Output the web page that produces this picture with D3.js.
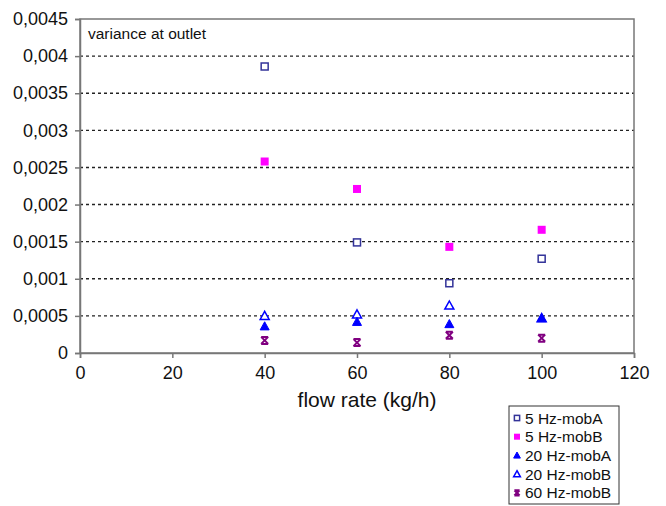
<!DOCTYPE html>
<html>
<head>
<meta charset="utf-8">
<script src="https://cdn.jsdelivr.net/npm/d3@7"></script>
<style>
    body { margin: 0; background: #fff; }
    svg { font-family: "Liberation Sans", Arial, sans-serif; }
</style>
</head>
<body>
<svg id="chart" width="666" height="506"></svg>
<script>
// flow rate values (kg/h)
var flowRates = [40, 60, 80, 100];

// variance at outlet, one array per series
var hz5MobA = [0.00386, 0.00149, 0.00094, 0.00127];
var hz5MobB = [0.00258, 0.00221, 0.00143, 0.00166];
var hz20MobA = [0.00036, 0.00042, 0.00039, 0.00047];
var hz20MobB = [0.00050, 0.00052, 0.00064, 0.00047];
var hz60MobB = [0.00017, 0.00014, 0.00024, 0.00020];

var seriesNames = ['5 Hz-mobA', '5 Hz-mobB', '20 Hz-mobA', '20 Hz-mobB', '60 Hz-mobB'];

var xTicks = [0, 20, 40, 60, 80, 100, 120];
var yTicks = [0, 0.0005, 0.001, 0.0015, 0.002, 0.0025, 0.003, 0.0035, 0.004, 0.0045];

// draw order: later series sit on top
var series = [
    { name: seriesNames[3], values: hz20MobB, shape: 'triOpen', color: '#0000ff' },
    { name: seriesNames[0], values: hz5MobA, shape: 'sqOpen', color: '#333399' },
    { name: seriesNames[1], values: hz5MobB, shape: 'sqFill', color: '#ff00ff' },
    { name: seriesNames[2], values: hz20MobA, shape: 'triFill', color: '#0000ff' },
    { name: seriesNames[4], values: hz60MobB, shape: 'star', color: '#800080' }
];
var legendOrder = [1, 2, 3, 0, 4];

var svg = d3.select('#chart');
var plotL = 80, plotR = 634, plotT = 19, plotB = 353;

var x = d3.scaleLinear().domain([0, 120]).range([plotL, plotR]);
var y = d3.scaleLinear().domain([0, 0.0045]).range([plotB, plotT]);

var fmt = function(d) { return d === 0 ? '0' : String(d).replace('.', ','); };

// dotted gridlines
svg.append('g').selectAll('line')
    .data(yTicks.filter(function(d) { return d > 0 && d < 0.0045; }))
    .enter().append('line')
    .attr('x1', plotL).attr('x2', plotR)
    .attr('y1', function(d) { return y(d); })
    .attr('y2', function(d) { return y(d); })
    .attr('stroke', '#222')
    .attr('stroke-width', 1.4)
    .attr('stroke-dasharray', '3,3');

// plot frame
svg.append('rect')
    .attr('x', plotL).attr('y', plotT)
    .attr('width', plotR - plotL).attr('height', plotB - plotT)
    .attr('fill', 'none').attr('stroke', '#777').attr('stroke-width', 1.5);

var yAxis = svg.append('g')
    .attr('transform', 'translate(' + plotL + ',0)')
    .call(d3.axisLeft(y).tickValues(yTicks).tickFormat(fmt).tickSize(5).tickPadding(7));

var xAxis = svg.append('g')
    .attr('transform', 'translate(0,' + plotB + ')')
    .call(d3.axisBottom(x).tickValues(xTicks).tickFormat(d3.format('d')).tickSize(5).tickPadding(8));

[yAxis, xAxis].forEach(function(ax) {
    ax.select('.domain').attr('stroke', '#777').attr('stroke-width', 1.5);
    ax.selectAll('.tick line').attr('stroke', '#777').attr('stroke-width', 1.5);
    ax.selectAll('.tick text').attr('fill', '#111').style('font-size', '18px')
        .style('font-family', '"Liberation Sans", Arial, sans-serif');
});

svg.append('text')
    .attr('x', 88).attr('y', 39)
    .style('font-size', '15.5px').attr('fill', '#111')
    .text('variance at outlet');

svg.append('text')
    .attr('x', 367).attr('y', 407)
    .attr('text-anchor', 'middle')
    .style('font-size', '21px').attr('fill', '#111')
    .text('flow rate (kg/h)');

function drawMarker(g, shape, color, cx, cy, s) {
    s = s || 1;
    if (shape === 'sqOpen') {
        g.append('rect').attr('x', cx - 3.5 * s).attr('y', cy - 3.5 * s)
            .attr('width', 7 * s).attr('height', 7 * s)
            .attr('fill', '#fff').attr('stroke', color).attr('stroke-width', 1.5);
    } else if (shape === 'sqFill') {
        g.append('rect').attr('x', cx - 4 * s).attr('y', cy - 4 * s)
            .attr('width', 8 * s).attr('height', 8 * s)
            .attr('fill', color);
    } else if (shape === 'triFill' || shape === 'triOpen') {
        var h = 4.5 * s;
        var pts = [[cx, cy - h], [cx + h, cy + h * 0.8], [cx - h, cy + h * 0.8]];
        g.append('path').attr('d', d3.line()(pts) + 'Z')
            .attr('fill', shape === 'triFill' ? color : '#fff')
            .attr('stroke', color).attr('stroke-width', shape === 'triFill' ? 1 : 1.5);
    } else if (shape === 'star') {
        var r = 3.5 * s;
        g.append('path')
            .attr('d', 'M' + (cx - r) + ',' + (cy - r) + 'L' + (cx + r) + ',' + (cy + r) +
                'M' + (cx + r) + ',' + (cy - r) + 'L' + (cx - r) + ',' + (cy + r) +
                'M' + (cx - r) + ',' + (cy - r) + 'L' + (cx + r) + ',' + (cy - r) +
                'M' + (cx - r) + ',' + (cy + r) + 'L' + (cx + r) + ',' + (cy + r))
            .attr('stroke', color).attr('stroke-width', 2).attr('fill', 'none');
    }
}

var marks = svg.append('g');
series.forEach(function(sr) {
    sr.values.forEach(function(v, i) {
        drawMarker(marks, sr.shape, sr.color, x(flowRates[i]), y(v));
    });
});

// legend
var lg = svg.append('g').attr('transform', 'translate(509,406)');
lg.append('rect').attr('x', 0).attr('y', 0).attr('width', 110).attr('height', 98)
    .attr('fill', '#fff').attr('stroke', '#333').attr('stroke-width', 1);
legendOrder.forEach(function(idx, i) {
    var sr = series[idx];
    var cy = 12 + i * 18.7;
    drawMarker(lg, sr.shape, sr.color, 8, cy, 0.75);
    lg.append('text').attr('x', 16).attr('y', cy + 5.5)
        .style('font-size', '15.5px').attr('fill', '#111')
        .text(sr.name);
});
</script>
</body>
</html>
